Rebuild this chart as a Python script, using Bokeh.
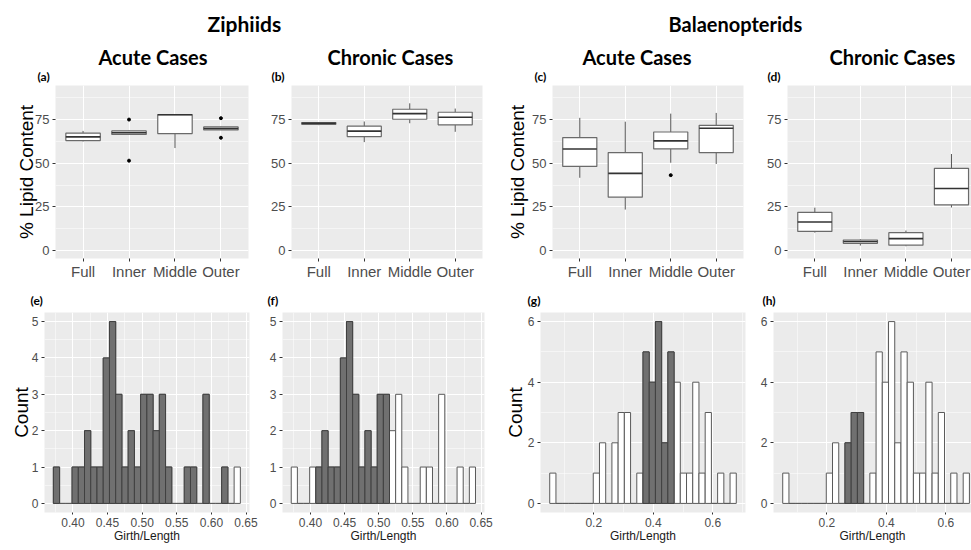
from bokeh.plotting import figure
from bokeh.layouts import column, row
from bokeh.models import Range1d, FixedTicker, SingleIntervalTicker, PrintfTickFormatter, Title
from bokeh.embed import file_html
from bokeh.resources import INLINE

# ---------------- data ----------------
layers = ["Full", "Inner", "Middle", "Outer"]

# (a) Ziphiids, acute: lower whisker, Q1, median, Q3, upper whisker
a_lower = [62.5, 66.3, 58.7, 69.0]
a_q1 = [63.0, 66.5, 67.0, 69.1]
a_med = [65.1, 67.5, 77.8, 69.9]
a_q3 = [67.2, 68.5, 77.8, 70.8]
a_upper = [68.5, 68.7, 78.0, 71.0]
a_out_layer = ["Inner", "Inner", "Outer", "Outer"]
a_out_val = [75.0, 51.5, 75.8, 64.6]

# (b) Ziphiids, chronic
b_lower = [71.8, 62.1, 72.9, 68.0]
b_q1 = [72.3, 65.3, 75.2, 72.0]
b_med = [72.9, 68.4, 78.4, 76.3]
b_q3 = [73.3, 71.2, 80.9, 79.2]
b_upper = [73.6, 73.9, 84.3, 81.3]
b_out_layer = []
b_out_val = []

# (c) Balaenopterids, acute
c_lower = [41.7, 23.5, 50.3, 49.6]
c_q1 = [48.2, 30.6, 58.2, 56.1]
c_med = [58.2, 44.2, 62.8, 70.0]
c_q3 = [64.7, 56.1, 67.9, 71.7]
c_upper = [76.0, 73.8, 78.4, 78.8]
c_out_layer = ["Middle"]
c_out_val = [43.2]

# (d) Balaenopterids, chronic
d_lower = [10.3, 2.9, 2.5, 24.7]
d_q1 = [11.0, 4.2, 3.1, 26.2]
d_med = [16.4, 5.2, 6.9, 35.6]
d_q3 = [21.9, 6.1, 10.3, 47.1]
d_upper = [24.6, 6.5, 11.5, 55.3]
d_out_layer = []
d_out_val = []

# Girth/Length histograms (30 bins)
zip_bin_start = 0.3718
zip_bin_width = 0.009
zip_all = [1, 0, 0, 1, 1, 2, 1, 1, 4, 5, 3, 1, 2, 1, 3, 3, 2, 3, 1, 0, 0, 1, 1, 0, 3, 0, 0, 1, 0, 1]
zip_acute = [1, 0, 0, 1, 1, 2, 1, 1, 4, 5, 3, 1, 2, 1, 3, 3, 2, 3, 1, 0, 0, 1, 1, 0, 3, 0, 0, 1, 0, 0]
zip_chronic = [0, 0, 0, 0, 1, 2, 1, 1, 4, 5, 3, 1, 2, 1, 3, 3, 0, 0, 0, 0, 0, 0, 0, 0, 0, 0, 0, 0, 0, 0]

bal_bin_start = 0.052
bal_bin_width = 0.0209
bal_all = [1, 0, 0, 0, 0, 0, 0, 1, 2, 0, 2, 3, 3, 0, 1, 5, 4, 6, 2, 5, 4, 1, 1, 4, 1, 3, 0, 1, 0, 1]
bal_acute = [0, 0, 0, 0, 0, 0, 0, 0, 0, 0, 0, 0, 0, 0, 0, 5, 4, 6, 2, 5, 0, 0, 0, 0, 0, 0, 0, 0, 0, 0]
bal_chronic = [0, 0, 0, 0, 0, 0, 0, 0, 0, 0, 2, 3, 3, 0, 0, 0, 0, 0, 0, 0, 0, 0, 0, 0, 0, 0, 0, 0, 0, 0]

# ---------------- style ----------------
BG = "#EBEBEB"
TICK_COL = "#4D4D4D"
SANS = "Liberation Sans"
HEAD = "Lato"


def base_style(p):
    p.background_fill_color = BG
    p.border_fill_color = "white"
    p.outline_line_color = None
    for ax in p.axis:
        ax.axis_line_color = None
        ax.major_tick_line_color = "#333333"
        ax.major_tick_out = 3
        ax.major_tick_in = 0
        ax.minor_tick_line_color = None
        ax.major_label_text_color = TICK_COL
        ax.major_label_text_font = SANS
        ax.axis_label_text_font = SANS
        ax.axis_label_text_font_style = "normal"
        ax.axis_label_text_color = "black"
    for g in p.grid:
        g.grid_line_color = "white"
        g.grid_line_width = 1.1
    p.ygrid.minor_grid_line_color = "white"
    p.ygrid.minor_grid_line_width = 0.5


def add_letter(p, letter, off, standoff):
    p.add_layout(Title(text=letter, align="left", offset=off, standoff=standoff,
                       vertical_align="top", text_font=HEAD, text_font_size="12px",
                       text_font_style="bold", text_color="black"), "above")


def box_panel(letter, heading, head_off, letter_off, lower, q1, med, q3, upper,
              out_layer, out_val, ylabel, lab_standoff, w, bl, br, xmax):
    p = figure(width=w, height=252, output_backend="svg", toolbar_location=None,
               x_range=Range1d(0.4, xmax), y_range=Range1d(-4.5, 94.5),
               min_border_left=bl, min_border_right=br, min_border_top=47,
               min_border_bottom=32)
    pos = [i + 1 for i in range(len(layers))]
    half = 0.375
    p.segment(x0=pos, y0=q3, x1=pos, y1=upper, line_color="#555555", line_width=1)
    p.segment(x0=pos, y0=lower, x1=pos, y1=q1, line_color="#555555", line_width=1)
    p.vbar(x=pos, bottom=q1, top=q3, width=2 * half, fill_color="white",
           line_color="#6a6a6a", line_width=1.2)
    p.segment(x0=[x - half for x in pos], y0=med, x1=[x + half for x in pos], y1=med,
              line_color="#333333", line_width=1.6)
    if out_val:
        p.scatter(x=[layers.index(l) + 1 for l in out_layer], y=out_val, size=3,
                  color="black")
    base_style(p)
    xt = FixedTicker(ticks=pos)
    p.xaxis[0].ticker = xt
    p.xgrid[0].ticker = xt
    p.xaxis.major_label_overrides = {x: l for x, l in zip(pos, layers)}
    yt = SingleIntervalTicker(interval=25, num_minor_ticks=2)
    p.yaxis[0].ticker = yt
    p.ygrid[0].ticker = yt
    p.xaxis.major_label_text_font_size = "15px"
    p.yaxis.major_label_text_font_size = "13px"
    p.xaxis.major_label_standoff = 1
    p.yaxis.major_label_standoff = 2
    if ylabel:
        p.yaxis.axis_label = ylabel
        p.yaxis.axis_label_text_font_size = "19px"
        p.yaxis.axis_label_standoff = lab_standoff
    add_letter(p, letter, letter_off, 0)
    p.add_layout(Title(text=heading, align="left", offset=head_off, standoff=0,
                       text_font=HEAD, text_font_size="20px", text_font_style="bold",
                       text_color="black"), "above")
    return p


def hist_panel(letter, letter_off, start, width, all_counts, dark_counts, xr, yr,
               xint, yint, fmt, ylabel, lab_standoff, w, bl, br):
    p = figure(width=w, height=260, output_backend="svg", toolbar_location=None,
               x_range=Range1d(*xr), y_range=Range1d(*yr),
               min_border_left=bl, min_border_right=br, min_border_top=22,
               min_border_bottom=38)
    centers = [start + (i + 0.5) * width for i in range(len(all_counts))]
    p.vbar(x=centers, bottom=0, top=all_counts, width=width, fill_color="white",
           line_color="#5a5a5a", line_width=1)
    dx = [c for c, n in zip(centers, dark_counts) if n > 0]
    dy = [n for n in dark_counts if n > 0]
    p.vbar(x=dx, bottom=0, top=dy, width=width, fill_color="#707070",
           line_color="#404040", line_width=1)
    base_style(p)
    xt = SingleIntervalTicker(interval=xint, num_minor_ticks=2)
    p.xaxis[0].ticker = xt
    p.xgrid[0].ticker = xt
    p.xgrid.minor_grid_line_color = "white"
    p.xgrid.minor_grid_line_width = 0.5
    yt = SingleIntervalTicker(interval=yint, num_minor_ticks=2)
    p.yaxis[0].ticker = yt
    p.ygrid[0].ticker = yt
    p.xaxis.formatter = PrintfTickFormatter(format=fmt)
    p.xaxis.major_label_text_font_size = "12px"
    p.yaxis.major_label_text_font_size = "12px"
    p.xaxis.major_label_standoff = 1
    p.yaxis.major_label_standoff = 2
    p.xaxis.major_tick_out = 2
    p.xaxis.axis_label = "Girth/Length"
    p.xaxis.axis_label_text_font_size = "12px"
    p.xaxis.axis_label_text_color = "#1a1a1a"
    p.xaxis.axis_label_standoff = -1
    if ylabel:
        p.yaxis.axis_label = ylabel
        p.yaxis.axis_label_text_font_size = "19px"
        p.yaxis.axis_label_standoff = lab_standoff
    add_letter(p, letter, letter_off, 5)
    return p


def header(text, w, off, size):
    p = figure(width=w, height=38, output_backend="svg", toolbar_location=None,
               min_border_left=0, min_border_right=0, min_border_bottom=0, min_border_top=35,
               x_range=Range1d(0, 1), y_range=Range1d(0, 1))
    p.axis.visible = False
    p.grid.visible = False
    p.outline_line_color = None
    p.add_layout(Title(text=text, align="left", offset=off, standoff=0,
                       text_font=HEAD, text_font_size=size, text_font_style="bold",
                       text_color="black"), "above")
    return p


h1 = header("Ziphiids", 500, 207, "21px")
h2 = header("Balaenopterids", 471, 168, "20px")

pa = box_panel("(a)", "Acute Cases", 43, -18, a_lower, a_q1, a_med, a_q3, a_upper,
               a_out_layer, a_out_val, "% Lipid Content", -5, 262, 55, 14, 4.6)
pb = box_panel("(b)", "Chronic Cases", 36, -20, b_lower, b_q1, b_med, b_q3, b_upper,
               b_out_layer, b_out_val, None, 0, 238, 29, 18, 4.6)
pc = box_panel("(c)", "Acute Cases", 30, -18, c_lower, c_q1, c_med, c_q3, c_upper,
               c_out_layer, c_out_val, "% Lipid Content", 1, 252, 52, 9, 4.6)
pd = box_panel("(d)", "Chronic Cases", 42, -20, d_lower, d_q1, d_med, d_q3, d_upper,
               d_out_layer, d_out_val, None, 0, 219, 35, 0, 4.44)

pe = hist_panel("(e)", -14, zip_bin_start, zip_bin_width, zip_all, zip_acute,
                (0.359, 0.655), (-0.25, 5.25), 0.05, 1, "%.2f", "Count", -3, 262, 44, 13)
pf = hist_panel("(f)", -15, zip_bin_start, zip_bin_width, zip_all, zip_chronic,
                (0.359, 0.655), (-0.25, 5.25), 0.05, 1, "%.2f", None, 0, 238, 20, 16)
pg = hist_panel("(g)", -13, bal_bin_start, bal_bin_width, bal_all, bal_acute,
                (0.021, 0.710), (-0.3, 6.3), 0.2, 2, "%.1f", "Count", -1, 252, 40, 7)
ph = hist_panel("(h)", -11, bal_bin_start, bal_bin_width, bal_all, bal_chronic,
                (0.021, 0.686), (-0.3, 6.3), 0.2, 2, "%.1f", None, 0, 219, 21, 0)

layout = column(row(h1, h2), row(pa, pb, pc, pd), row(pe, pf, pg, ph))

open("out.html", "w").write(file_html(layout, INLINE))
